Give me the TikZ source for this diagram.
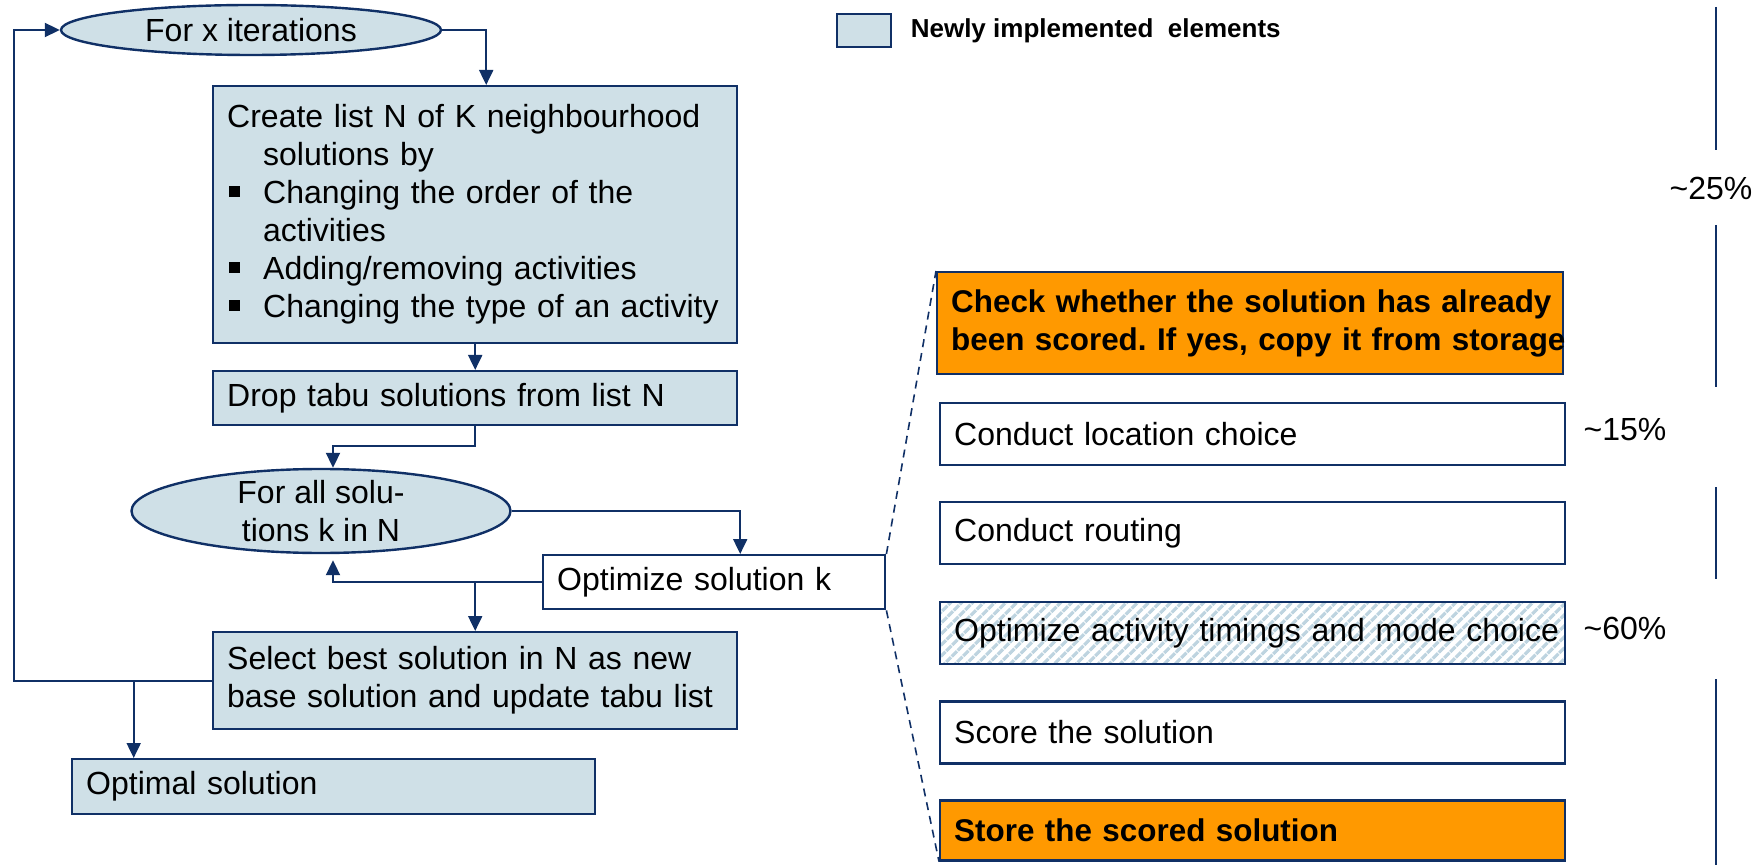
\documentclass[tikz,border=0pt]{standalone}
\usepackage{fontspec}
\setmainfont{Liberation Sans}
\usepackage{tikz}
\usetikzlibrary{positioning,arrows.meta,shapes.geometric,patterns.meta}
\definecolor{navy}{RGB}{16,48,102}
\definecolor{paleblue}{RGB}{207,224,231}
\definecolor{hotorange}{RGB}{255,153,0}
\definecolor{hatchblue}{RGB}{190,212,224}
\newcommand{\sqitem}{\hspace*{1pt}\makebox[17pt][l]{\raisebox{3.5pt}{\rule{5.5pt}{5.5pt}}}}
\newcommand{\hang}{\hspace*{18pt}}
\frenchspacing

\begin{document}
\begin{tikzpicture}[x=0.5pt,y=-0.5pt,
    every node/.style={font=\fontsize{16}{19}\selectfont},
    box/.style={draw=navy,line width=1.2pt,anchor=north west,align=left,inner xsep=7pt,inner ysep=0pt},
    newbox/.style={box,fill=paleblue},
    hotbox/.style={box,fill=hotorange,font=\fontsize{15.7}{19}\selectfont\bfseries},
    loopnode/.style={ellipse,draw=navy,line width=1.2pt,fill=paleblue,inner sep=0pt,align=center},
    arr/.style={-{Triangle[length=7.5pt,width=7pt]},draw=navy,line width=1pt},
    node distance=17.3pt]
    \useasboundingbox (0,0) rectangle (1764,865);
    \node[loopnode,minimum width=190pt,minimum height=25pt] (forx) at (251,30) {For x iterations};
    \node[newbox,text width=248pt,minimum height=128.5pt] (create) at (212,85) {Create list N of K neighbourhood\\
      \hang solutions by\\
      \sqitem Changing the order of the\\
      \hang activities\\
      \sqitem Adding/removing activities\\
      \sqitem Changing the type of an activity};
    \node[newbox,text width=248pt,minimum height=27pt] (drop) at (212,370) {Drop tabu solutions from list N};
    \node[loopnode,minimum width=189.5pt,minimum height=42pt,inner ysep=-3pt] (forall) at (321,511) {For all solu-\\tions k in N};
    \node[box,fill=white,text width=157pt,minimum height=27pt] (opt) at (542,554) {Optimize solution k};
    \node[newbox,text width=248pt,minimum height=48.5pt] (sel) at (212,631) {Select best solution in N as new\\base solution and update tabu list};
    \node[newbox,text width=247.5pt,minimum height=27.5pt] (optim) at (71,758) {Optimal solution};
    \coordinate (lp) at (14,30);
    \draw[arr] (forx.east) -| ([xshift=5.5pt]create.north);
    \draw[arr] (create) -- (drop);
    \draw[arr] (drop.south) -- ++(0,20) -| ([xshift=6pt]forall.north);
    \draw[arr] (forall.east) -| ([xshift=13pt]opt.north);
    \draw[arr,shorten >=3pt] (opt.west) -| ([xshift=6pt]forall.south);
    \draw[arr] (opt.west -| sel.north) -- (sel.north);
    \draw[arr] (sel.west) -| (lp) -- (forx.west);
    \draw[arr] ([xshift=-100pt]optim.north |- sel.west) -- ([xshift=-100pt]optim.north);

    \node[draw=navy,line width=1.2pt,fill=paleblue,minimum width=27pt,minimum height=16.5pt,inner sep=0pt,anchor=north west] (legend) at (836,13) {};
    \node[right=9pt of legend,inner sep=0pt,font=\fontsize{13}{15}\selectfont\bfseries] (legendtxt) {Newly implemented\ \ elements};

    \node[hotbox,text width=299pt,minimum height=51pt] (check) at (936,271) {\mbox{Check whether the solution has already}\\\mbox{been scored. If yes, copy it from storage}};
    \node[box,text width=298.5pt,minimum height=31pt] (loc) at (939,402) {Conduct location choice};
    \node[box,text width=298.5pt,minimum height=31pt,below=of loc] (rout) {Conduct routing};
    \node[box,pattern={Lines[angle=45,distance=4pt,line width=1.8pt]},pattern color=hatchblue,text width=298.5pt,minimum height=31pt,below=of rout] (timing) {\mbox{Optimize activity timings and mode choice}};
    \node[box,text width=298.5pt,minimum height=31pt,below=of timing] (score) {Score the solution};
    \node[hotbox,text width=298.5pt,minimum height=30pt,below=of score] (store) {Store the scored solution};
    \draw[navy,line width=0.8pt,dash pattern=on 4pt off 3pt] (opt.north east) -- (check.north west);
    \draw[navy,line width=0.8pt,dash pattern=on 4pt off 3pt] (opt.south east) -- (store.south west);

    \node (p25) at (1711,188) {\textasciitilde 25\%};
    \node (p15) at (1625,430) {\textasciitilde 15\%};
    \node (p60) at (1625,628) {\textasciitilde 60\%};
    \draw[navy,line width=1pt] (1716,7) -- (1716,150);
    \draw[navy,line width=1pt] (1716,225) -- (1716,387);
    \draw[navy,line width=1pt] (1716,487) -- (1716,579);
    \draw[navy,line width=1pt] (1716,679) -- (1716,865);
\end{tikzpicture}
\end{document}
